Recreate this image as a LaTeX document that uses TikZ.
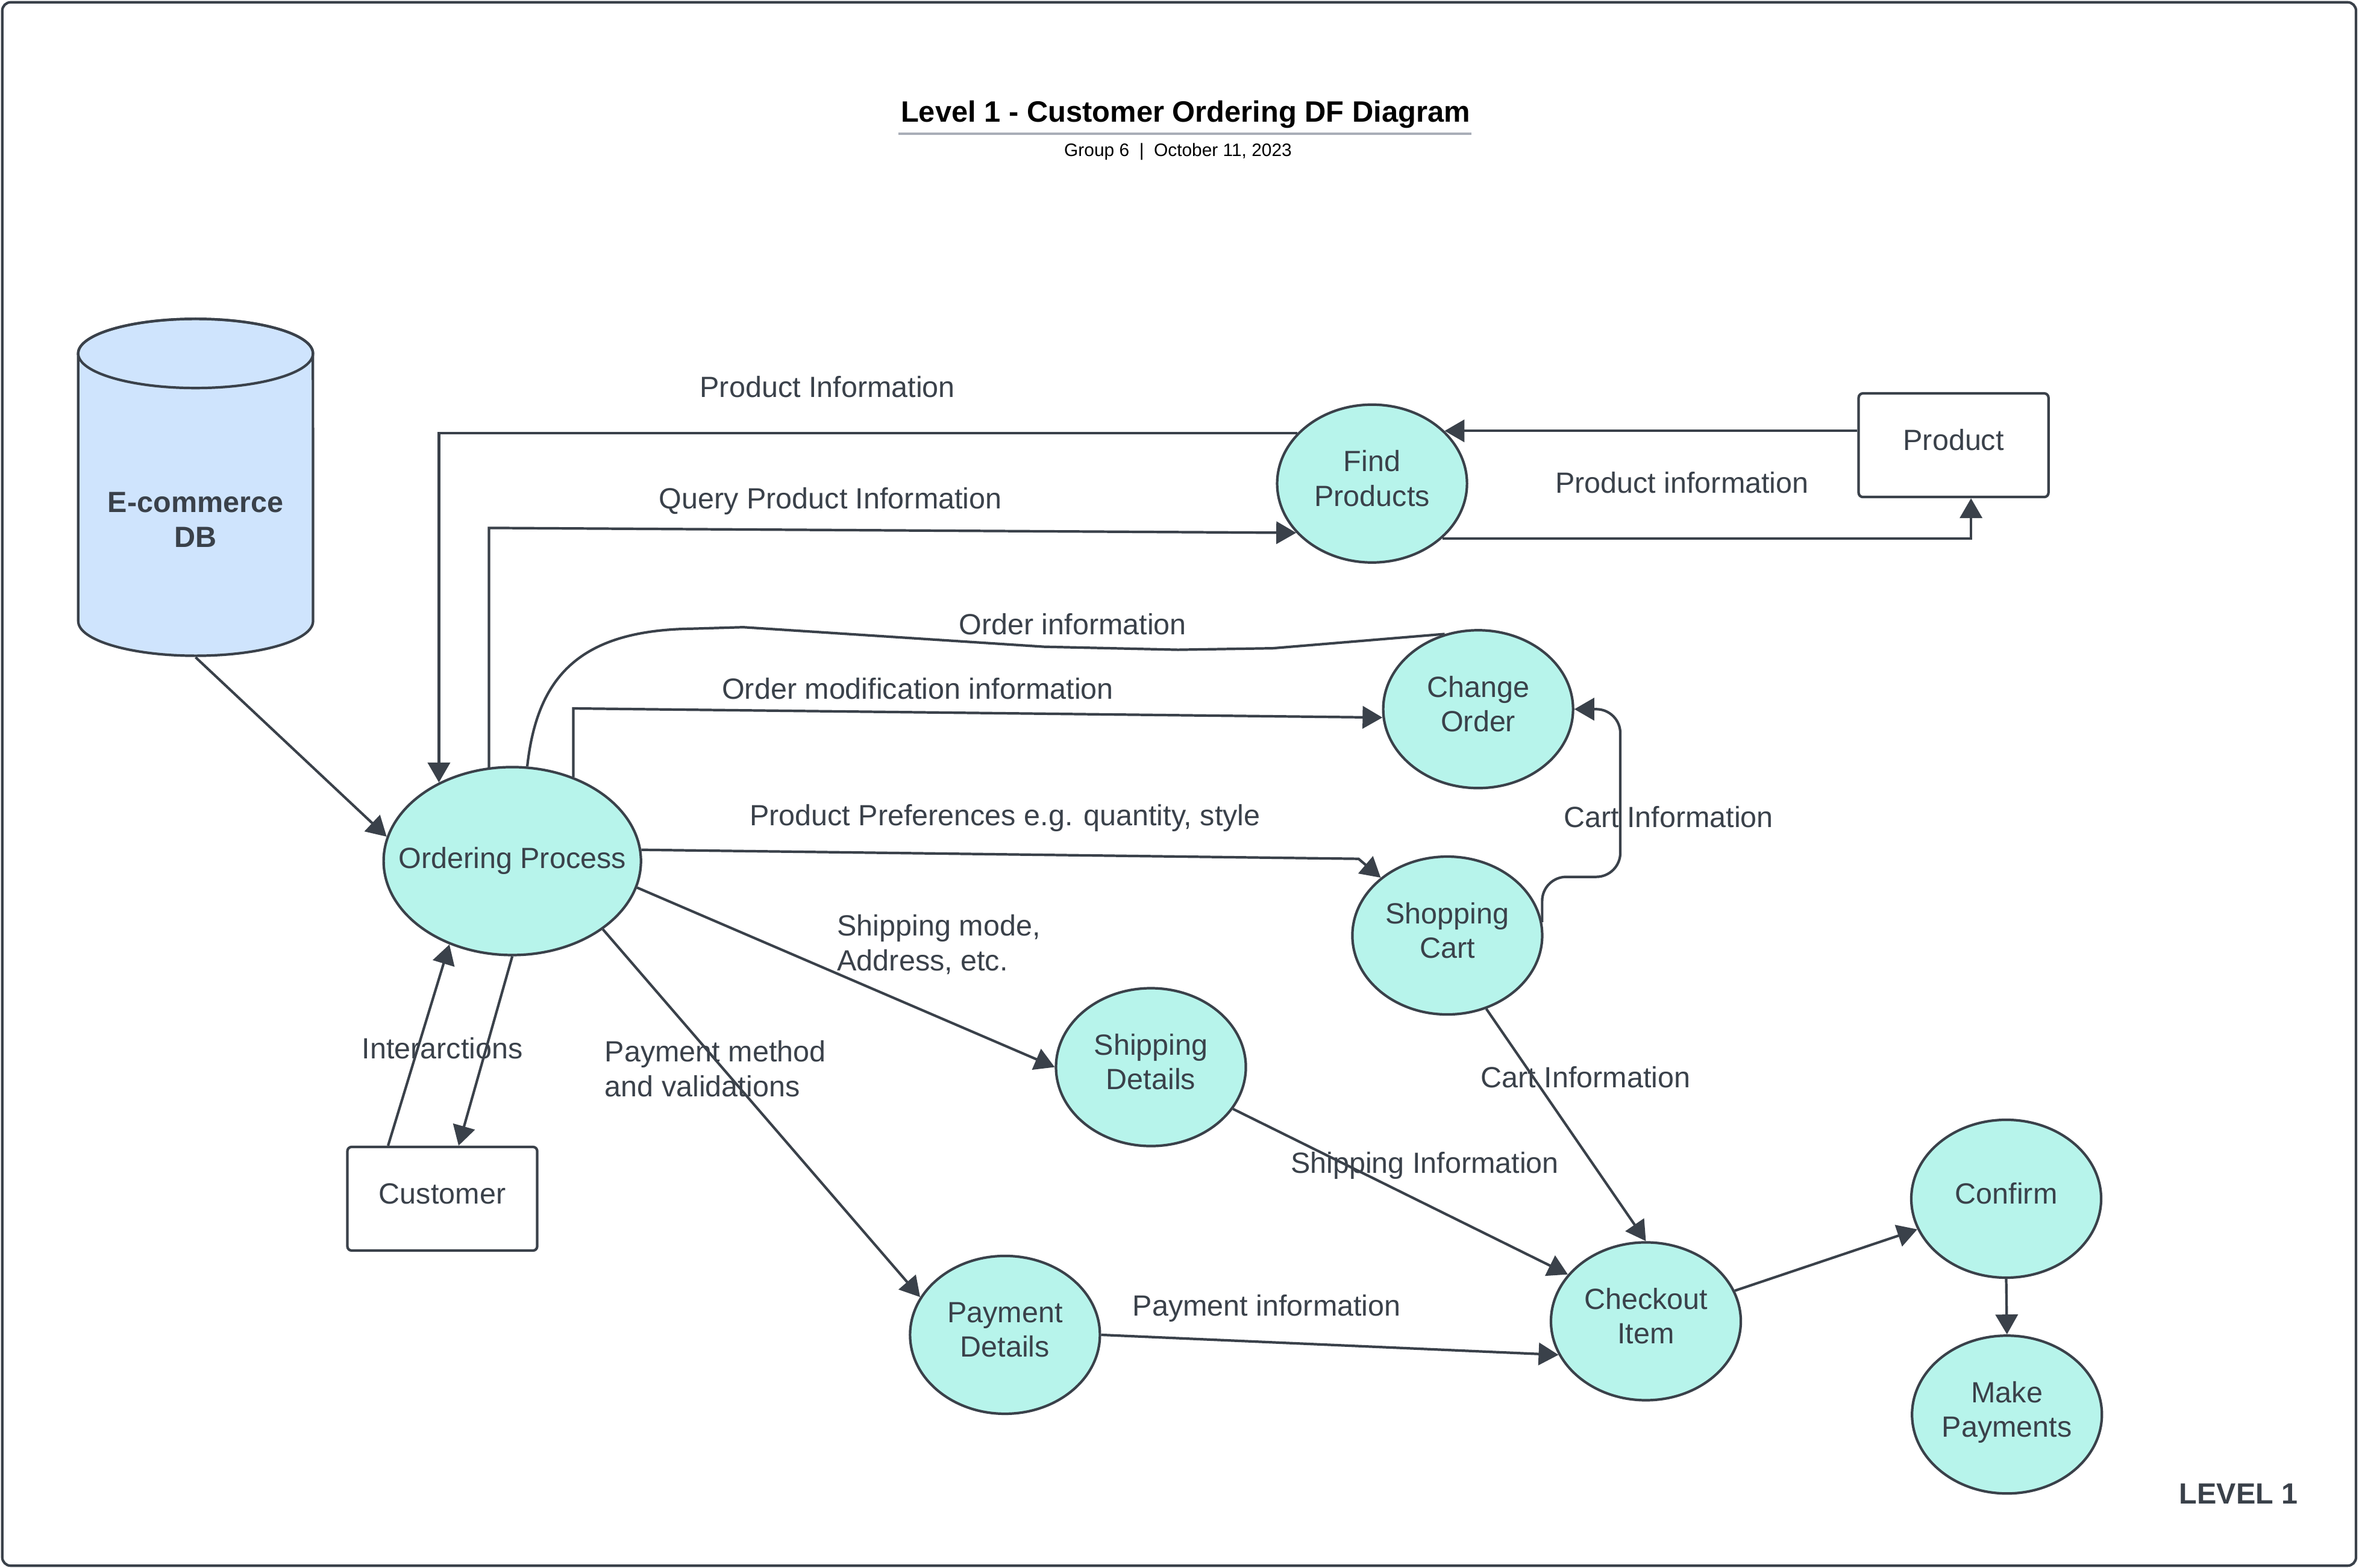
\documentclass[tikz,border=0pt]{standalone}
\usepackage{fontspec}
\setmainfont{Liberation Sans}
\usetikzlibrary{arrows.meta,shapes.geometric}
\definecolor{inkgray}{HTML}{3A414A}
\definecolor{procfill}{HTML}{B7F4EB}
\definecolor{dbfill}{HTML}{CFE4FD}
\definecolor{rulegray}{HTML}{A9AEB8}

\begin{document}
\begin{tikzpicture}[x=0.024968cm, y=-0.024968cm, line width=1.2pt, color=inkgray,
    every node/.style={font=\fontsize{13.8}{16.3}\selectfont, text=inkgray},
    proc/.style={ellipse, draw, fill=procfill, minimum width=3.15cm, minimum height=2.62cm, align=center, inner sep=0pt, text depth=5pt},
    ent/.style={rectangle, rounded corners=2pt, draw, fill=white, minimum width=3.15cm, minimum height=1.72cm, text depth=5pt},
    flow/.style={-{Triangle[length=0.33cm, width=0.37cm]}},
    lbl/.style={align=left, anchor=west}]
    \useasboundingbox (0,0) rectangle (1568,1042.5);
    % Cornice
    \draw[rounded corners=4pt] (1.5,1.5) rectangle (1566,1041);

    % Titolo
    \node[font=\bfseries\fontsize{13.9}{16}\selectfont, text=black] (title) at (788,76) {Level 1 - Customer Ordering DF Diagram};
    \draw[rulegray, line width=1pt] (597,89) -- (978,89);
    \node[font=\fontsize{8.5}{10}\selectfont, text=black] (subtitle) at (783,101) {Group 6 ~|~ October 11, 2023};

    % Archivio dati (cilindro)
    \node[minimum width=3.9cm, minimum height=5.6cm, inner sep=0pt] (db) at (130,324) {};
    \draw[fill=dbfill] (52,235) -- (52,413) arc[start angle=180, end angle=360, x radius=1.948cm, y radius=0.574cm]
        -- (208,235) arc[start angle=0, end angle=180, x radius=1.948cm, y radius=0.574cm] -- cycle;
    \draw (130,235) ellipse[x radius=1.948cm, y radius=0.574cm];
    \node[font=\bfseries\fontsize{13.8}{16.3}\selectfont, align=center] (dbname) at (130,345.5) {E-commerce\\DB};

    % Entita' esterne
    \node[ent] (pr) at (1298.5,296) {Product};
    \node[ent] (cu) at (294,797) {Customer};

    % Processi
    \node[proc, minimum width=4.27cm, minimum height=3.12cm, inner xsep=-0.4cm, text depth=3pt] (op) at (340.5,572.5) {Ordering Process};
    \node[proc] (fp) at (912,321.5) {Find\\Products};
    \node[proc] (co) at (982.5,471.5) {Change\\Order};
    \node[proc] (sc) at (962,622) {Shopping\\Cart};
    \node[proc] (sd) at (765,709.5) {Shipping\\Details};
    \node[proc] (pd) at (668,887.5) {Payment\\Details};
    \node[proc] (ch) at (1094,878.5) {Checkout\\Item};
    \node[proc] (cf) at (1333.5,797) {Confirm};
    \node[proc] (mp) at (1334,940.5) {Make\\Payments};

    % Flussi verso e da Find Products
    \draw[flow] (fp.146) -| (op.133);
    \node (lPI) at (550,257) {Product Information};
    \draw[flow] (op.104) -- (op.104 |- 0,351) -- (fp.213);
    \node (lQP) at (552,333) {Query Product Information};
    \draw[flow] (pr.west |- fp.36) -- (fp.36);
    \draw[flow] (fp.-38) -| ([xshift=0.29cm]pr.south);
    \node (lPi) at (1118,321) {Product information};

    % Flussi verso Change Order
    \draw (op.81) .. controls (357,450) and (385,419) .. (460,418) -- (494,417) -- (694,430) -- (783,432) -- (846,431) -- (co.114);
    \node (lOI) at (713,415) {Order information};
    \draw[flow] (op.54) -- (op.54 |- 0,471) -- (co.185);
    \node (lOM) at (610,458) {Order modification information};
    \draw[flow, rounded corners=0.4cm] (sc.8) |- (1077,583) |- (co.0);
    \node (lCI) at (1109,543) {Cart Information};

    % Flussi da Ordering Process
    \draw[flow] (op.5) -- (903,571) -- (sc.139);
    \node (lPP) at (668,544) {Product Preferences e.g. quantity, style};
    \draw[flow] (op.-12) -- (sd.west);
    \node[lbl] (lSM) at (551,628) {Shipping mode,\\Address, etc.};
    \draw[flow] (op.-37) -- (pd.156);
    \node[lbl] (lPM) at (396.5,710.5) {Payment method\\and validations};

    % Cliente e archivio
    \draw[flow] ([xshift=-0.9cm]cu.north) -- (op.233);
    \draw[flow] (op.south) -- ([xshift=0.27cm]cu.north);
    \node (lIA) at (294,697) {Interarctions};
    \draw[flow] (db.south) -- (op.169);

    % Checkout
    \draw[flow] (sd.-27) -- (ch.149);
    \node (lSI) at (947,775) {Shipping Information};
    \draw[flow] (pd.east) -- (ch.201);
    \node (lPy) at (842,870) {Payment information};
    \draw[flow] (sc.-62) -- (ch.north);
    \node (lCC) at (1054,716) {Cart Information};
    \draw[flow] (ch.19) -- (cf.199);
    \draw[flow] (cf.south) -- (mp.north);

    \node[font=\bfseries\fontsize{13.8}{16}\selectfont] (lvl) at (1488,993) {LEVEL 1};
\end{tikzpicture}
\end{document}
